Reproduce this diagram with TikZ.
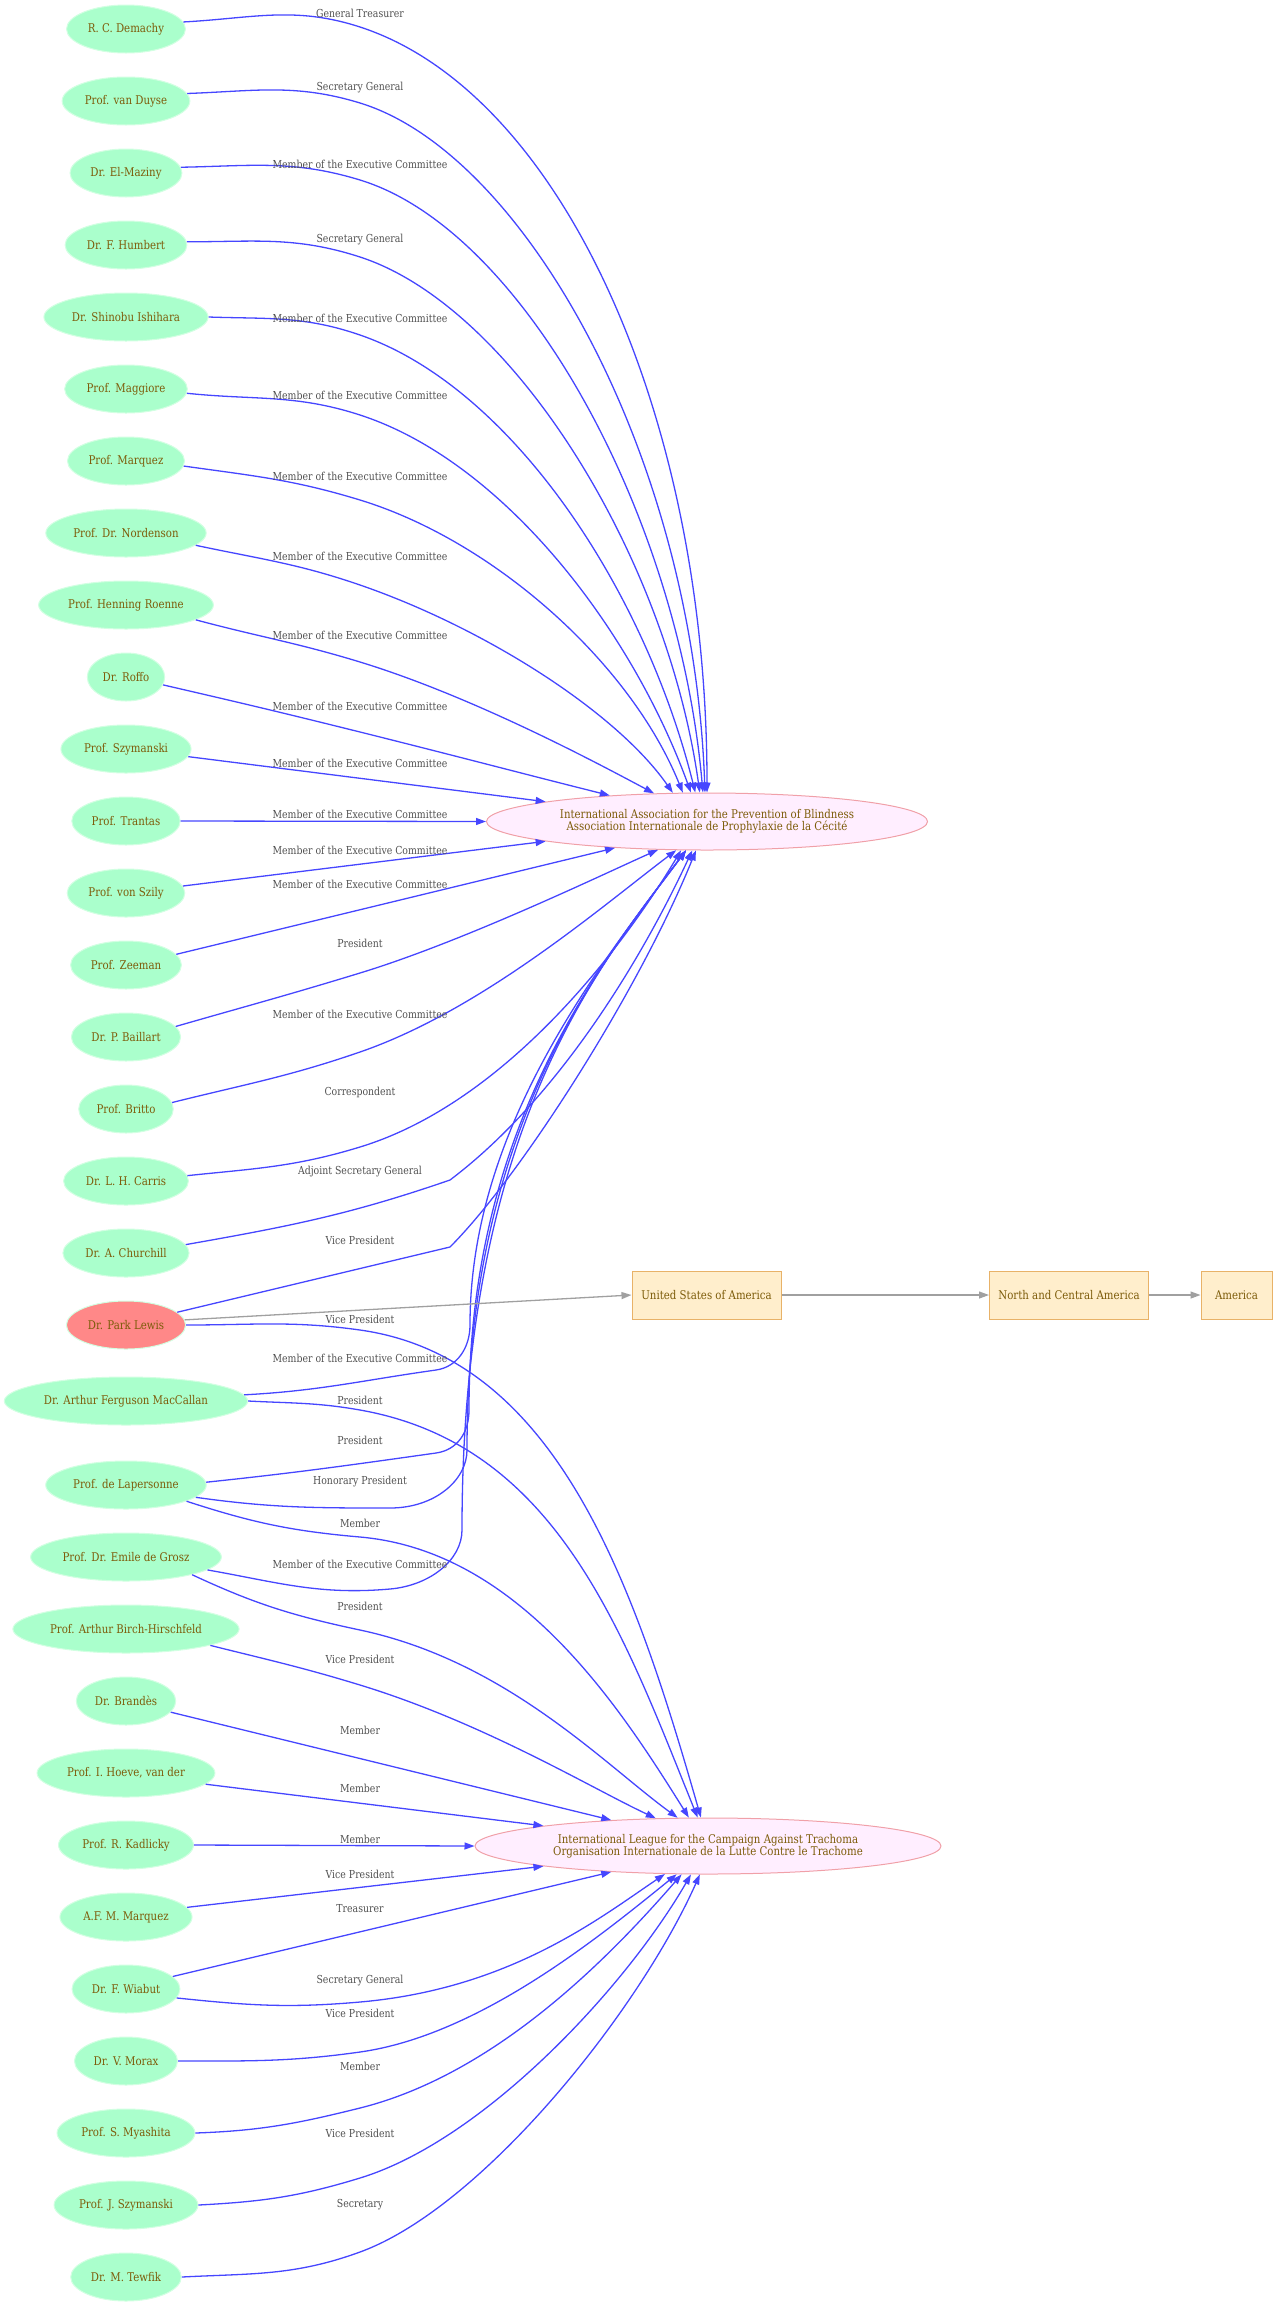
\documentclass[tikz,border=0pt]{standalone}
\usepackage{fontspec}
\setmainfont{DejaVu Serif}[FakeStretch=0.85]
\usetikzlibrary{arrows.meta,shapes.geometric}
\definecolor{mint}{HTML}{AAFFCC}
\definecolor{mintb}{HTML}{D2FFE2}
\definecolor{salmon}{HTML}{FF8888}
\definecolor{orgfill}{HTML}{FFEEFF}
\definecolor{orgdraw}{HTML}{F0A0A8}
\definecolor{boxfill}{HTML}{FFEECC}
\definecolor{boxdraw}{HTML}{E8B268}
\definecolor{ntext}{HTML}{7D5C0A}
\definecolor{labgray}{HTML}{505050}
\definecolor{eblue}{HTML}{4646FF}
\definecolor{egray}{HTML}{A0A0A0}
\tikzset{
  pn/.style={ellipse, fill=mint, draw=mintb, line width=1pt, minimum height=48pt,
    inner xsep=4pt, inner ysep=2pt, text=ntext, font=\fontsize{12}{14}\selectfont},
  org/.style={ellipse, fill=orgfill, draw=orgdraw, line width=1pt, text=ntext, align=center,
    inner sep=0pt, font=\fontsize{12}{12.5}\selectfont},
  cbox/.style={rectangle, fill=boxfill, draw=boxdraw, line width=1pt, minimum height=48pt,
    inner xsep=2pt, text=ntext, font=\fontsize{12}{14}\selectfont},
  e/.style={draw=eblue, line width=1.3pt, -{Triangle[length=10pt,width=7pt]}},
  g/.style={draw=egray, line width=1.3pt, -{Triangle[length=10pt,width=7pt]}},
  lab/.style={text=labgray, inner sep=0pt, font=\fontsize{11}{13}\selectfont},
}
\newcommand\EE[8]{%
  \pgfmathsetmacro\EEin{#4+180}%
  \draw[e] (#1) to[out=#2,in=\EEin] (#3) to[out=#4,in=#6,out distance=#7pt,in distance=#8pt] (#5);%
}
\begin{document}
\begin{tikzpicture}[x=1pt,y=1pt]
\useasboundingbox (0,0) rectangle (1274,-2308);
% left column
\node[pn] (demachy)   at (126,-29)   {R. C. Demachy};
\node[pn] (vanduyse)  at (126,-101)  {Prof. van Duyse};
\node[pn] (elmaziny)  at (126,-173)  {Dr. El-Maziny};
\node[pn] (humbert)   at (126,-245)  {Dr. F. Humbert};
\node[pn] (ishihara)  at (126,-317)  {Dr. Shinobu Ishihara};
\node[pn] (maggiore)  at (126,-389)  {Prof. Maggiore};
\node[pn] (marquez)   at (126,-461)  {Prof. Marquez};
\node[pn] (nordenson) at (126,-533)  {Prof. Dr. Nordenson};
\node[pn] (roenne)    at (126,-605)  {Prof. Henning Roenne};
\node[pn] (roffo)     at (126,-677)  {Dr. Roffo};
\node[pn] (szymanski) at (126,-749)  {Prof. Szymanski};
\node[pn] (trantas)   at (126,-821)  {Prof. Trantas};
\node[pn] (vonszily)  at (126,-893)  {Prof. von Szily};
\node[pn] (zeeman)    at (126,-965)  {Prof. Zeeman};
\node[pn] (baillart)  at (126,-1037) {Dr. P. Baillart};
\node[pn] (britto)    at (126,-1109) {Prof. Britto};
\node[pn] (carris)    at (126,-1181) {Dr. L. H. Carris};
\node[pn] (churchill) at (126,-1253) {Dr. A. Churchill};
\node[pn, fill=salmon] (parklewis) at (126,-1325) {Dr. Park Lewis};
\node[pn] (maccallan) at (126,-1401) {Dr. Arthur Ferguson MacCallan};
\node[pn] (lapersonne) at (126,-1485) {Prof. de Lapersonne};
\node[pn] (degrosz)   at (126,-1557) {Prof. Dr. Emile de Grosz};
\node[pn] (birch)     at (126,-1629) {Prof. Arthur Birch-Hirschfeld};
\node[pn] (brandes)   at (126,-1701) {Dr. Brandès};
\node[pn] (hoeve)     at (126,-1773) {Prof. I. Hoeve, van der};
\node[pn] (kadlicky)  at (126,-1845) {Prof. R. Kadlicky};
\node[pn] (afmarquez) at (126,-1917) {A.F. M. Marquez};
\node[pn] (wiabut)    at (126,-1989) {Dr. F. Wiabut};
\node[pn] (morax)     at (126,-2061) {Dr. V. Morax};
\node[pn] (myashita)  at (126,-2133) {Prof. S. Myashita};
\node[pn] (jszymanski) at (126,-2205) {Prof. J. Szymanski};
\node[pn] (tewfik)    at (126,-2277) {Dr. M. Tewfik};
% organisations
\node[org, minimum width=441pt, minimum height=57pt] (iapb) at (707,-821.5)
  {International Association for the Prevention of Blindness\\Association Internationale de Prophylaxie de la Cécité};
\node[org, minimum width=466pt, minimum height=56pt] (ilcat) at (708,-1846)
  {International League for the Campaign Against Trachoma\\Organisation Internationale de la Lutte Contre le Trachome};
\node[cbox, minimum width=149pt] (usa) at (706.5,-1295) {United States of America};
\node[cbox, minimum width=159pt] (nca) at (1069,-1295) {North and Central America};
\node[cbox, minimum width=71pt] (america) at (1236.5,-1295) {America};
% edges to IAPB, from above
\EE{demachy.7}{3}{360,-27}{-18}{iapb.90}{90}{210}{380}
\EE{vanduyse.7}{2}{360,-103}{-17}{iapb.94}{92}{170}{340}
\EE{elmaziny.6}{1}{360,-180}{-17}{iapb.98}{95}{170}{280}
\EE{humbert.3}{0}{360,-257}{-18}{iapb.104}{98}{160}{240}
\EE{ishihara.0}{-2}{360,-335}{-19}{iapb.112}{104}{160}{210}
\EE{maggiore.-4}{-6}{360,-415}{-18}{iapb.119}{110}{150}{175}
\EE{marquez.-5}{-8}{360,-500}{-17}{iapb.130}{112}{140}{140}
\EE{nordenson.-10}{-12}{360,-585}{-19}{iapb.140}{125}{130}{100}
\EE{roenne.-12}{-15}{360,-662}{-17}{iapb.152}{152}{120}{60}
\EE{roffo.-12}{-13}{360,-732}{-14}{iapb.165}{166}{100}{80}
\draw[e] (szymanski.-7) -- (iapb.173);
\draw[e] (trantas.east) -- (iapb.west);
% edges to IAPB, from below
\draw[e] (vonszily.7) -- (iapb.187);
\draw[e] (zeeman.12) -- (iapb.196);
\EE{baillart.12}{16}{360,-973}{17}{iapb.210}{204}{110}{60}
\EE{britto.8}{14}{360,-1052}{19}{iapb.223}{217}{130}{90}
\EE{carris.5}{6}{360,-1147}{17}{iapb.228}{239}{150}{120}
\draw[e] (churchill.8) to[out=10,in=199] (450,-1180) to[out=37,in=245,out distance=130pt,in distance=130pt] (iapb.243);
\draw[e] (parklewis.14) -- (450,-1247) to[out=45,in=248,out distance=100pt,in distance=150pt] (iapb.249);
\draw[e] (maccallan.3) to[out=3,in=188] (436,-1370) to[out=8,in=270,out distance=22pt,in distance=22pt] (470,-1325) to[out=90,in=233,out distance=195pt,in distance=150pt] (iapb.234);
\draw[e] (lapersonne.2) to[out=6,in=188] (436,-1453) to[out=8,in=270,out distance=22pt,in distance=22pt] (469,-1410) to[out=90,in=233,out distance=280pt,in distance=150pt] (iapb.234);
\draw[e] (lapersonne.-10) to[out=-8,in=180] (390,-1508) to[out=0,in=270,out distance=45pt,in distance=30pt] (467,-1450) to[out=90,in=233,out distance=320pt,in distance=150pt] (iapb.234);
\draw[e] (degrosz.-9) to[out=-10,in=185] (390,-1589) to[out=5,in=270,out distance=40pt,in distance=30pt] (462,-1530) to[out=90,in=233,out distance=400pt,in distance=150pt] (iapb.234);
% edges to ILCAT
\EE{parklewis.0}{0}{360,-1330}{-8}{ilcat.104}{106}{200}{240}
\EE{maccallan.0}{-3}{360,-1410}{-10}{ilcat.110}{112}{200}{200}
\EE{lapersonne.-15}{-18}{360,-1537}{-5}{ilcat.124}{122}{160}{130}
\EE{degrosz.-15}{-25}{360,-1630}{-12}{ilcat.137}{144}{150}{90}
\EE{birch.-11}{-14}{360,-1685}{-17}{ilcat.152}{155}{130}{70}
\draw[e] (brandes.-14) -- (ilcat.165);
\draw[e] (hoeve.-8) -- (ilcat.173);
\draw[e] (kadlicky.east) -- (ilcat.west);
\draw[e] (afmarquez.9) -- (ilcat.187);
\draw[e] (wiabut.15) -- (ilcat.195);
\EE{wiabut.-10}{-6}{360,-2002}{5}{ilcat.213}{214}{150}{80}
\EE{morax.0}{0}{360,-2052}{8}{ilcat.222}{219}{120}{100}
\EE{myashita.0}{2}{360,-2108}{14}{ilcat.227}{229}{140}{110}
\EE{jszymanski.0}{3}{360,-2178}{17}{ilcat.239}{240}{130}{130}
\EE{tewfik.0}{3}{360,-2252}{20}{ilcat.254}{246}{130}{150}
% geography
\draw[g] (parklewis.5) -- (usa.west);
\draw[g] (usa) -- (nca);
\draw[g] (nca) -- (america);
% edge labels
\node[lab] (t1)  at (360,-13.7) {General Treasurer};
\node[lab] (t2)  at (360,-88)   {Secretary General};
\node[lab] (t3)  at (360,-164)  {Member of the Executive Committee};
\node[lab] (t4)  at (360,-240)  {Secretary General};
\node[lab] (t5)  at (360,-318)  {Member of the Executive Committee};
\node[lab] (t6)  at (360,-395)  {Member of the Executive Committee};
\node[lab] (t7)  at (360,-476)  {Member of the Executive Committee};
\node[lab] (t8)  at (360,-556)  {Member of the Executive Committee};
\node[lab] (t9)  at (360,-635)  {Member of the Executive Committee};
\node[lab] (t10) at (360,-706)  {Member of the Executive Committee};
\node[lab] (t11) at (360,-763)  {Member of the Executive Committee};
\node[lab] (t12) at (360,-814)  {Member of the Executive Committee};
\node[lab] (t13) at (360,-850)  {Member of the Executive Committee};
\node[lab] (t14) at (360,-884)  {Member of the Executive Committee};
\node[lab] (t15) at (360,-943)  {President};
\node[lab] (t16) at (360,-1014) {Member of the Executive Committee};
\node[lab] (t17) at (360,-1092) {Correspondent};
\node[lab] (t18) at (360,-1172) {Adjoint Secretary General};
\node[lab] (t19) at (360,-1240) {Vice President};
\node[lab] (t20) at (360,-1319) {Vice President};
\node[lab] (t21) at (360,-1358) {Member of the Executive Committee};
\node[lab] (t22) at (360,-1400) {President};
\node[lab] (t23) at (360,-1440) {President};
\node[lab] (t24) at (360,-1482) {Honorary President};
\node[lab] (t25) at (360,-1523) {Member};
\node[lab] (t26) at (360,-1564) {Member of the Executive Committee};
\node[lab] (t27) at (360,-1606) {President};
\node[lab] (t28) at (360,-1659) {Vice President};
\node[lab] (t29) at (360,-1730) {Member};
\node[lab] (t30) at (360,-1788) {Member};
\node[lab] (t31) at (360,-1839) {Member};
\node[lab] (t32) at (360,-1874) {Vice President};
\node[lab] (t33) at (360,-1909) {Treasurer};
\node[lab] (t34) at (360,-1981) {Secretary General};
\node[lab] (t35) at (360,-2013) {Vice President};
\node[lab] (t36) at (360,-2066) {Member};
\node[lab] (t37) at (360,-2133) {Vice President};
\node[lab] (t38) at (360,-2205) {Secretary};
\end{tikzpicture}
\end{document}
